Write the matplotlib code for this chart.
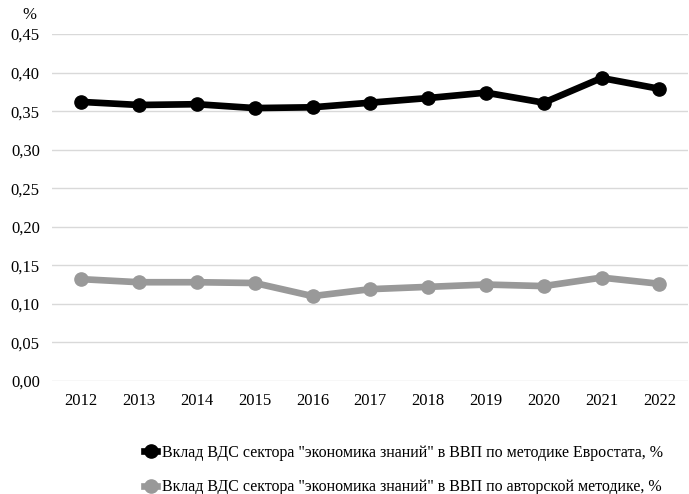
import matplotlib
matplotlib.use("Agg")
import matplotlib.pyplot as plt
from matplotlib.ticker import FuncFormatter

plt.rcParams['font.family'] = ['Liberation Serif', 'DejaVu Serif']

years = ['2012', '2013', '2014', '2015', '2016', '2017', '2018', '2019', '2020', '2021', '2022']
eurostat = [0.362, 0.358, 0.359, 0.354, 0.355, 0.361, 0.367, 0.374, 0.361, 0.393, 0.379]
author = [0.132, 0.128, 0.128, 0.127, 0.110, 0.119, 0.122, 0.125, 0.123, 0.134, 0.126]
labels = ['Вклад ВДС сектора "экономика знаний" в ВВП по методике Евростата, %',
          'Вклад ВДС сектора "экономика знаний" в ВВП по авторской методике, %']

fig = plt.figure(figsize=(6.89, 4.94), dpi=100)
ax = fig.add_axes([0.076, 0.229, 0.923, 0.702])

x = range(len(years))
ax.plot(x, eurostat, color='black', lw=4.8, marker='o', ms=9.5, label=labels[0])
ax.plot(x, author, color='#999999', lw=4.8, marker='o', ms=9.5, label=labels[1])

ax.set_xlim(-0.5, len(years) - 0.5)
ax.set_ylim(0, 0.45)
ax.set_yticks([i * 0.05 for i in range(10)])
ax.yaxis.set_major_formatter(FuncFormatter(lambda v, p: f"{v:.2f}".replace('.', ',')))
ax.set_xticks(list(x))
ax.set_xticklabels(years)
ax.tick_params(length=0, labelsize=12, colors='black')
ax.tick_params(axis='y', pad=9)
ax.tick_params(axis='x', pad=9)
ax.grid(axis='y', color='#d9d9d9', lw=1)
ax.set_axisbelow(True)
for s in ax.spines.values():
    s.set_visible(False)

fig.text(0.032, 0.962, '%', fontsize=12)

fig.legend(loc='upper left', bbox_to_anchor=(0.2, 0.112), frameon=False,
           fontsize=11.5, handlelength=0.8, handletextpad=0.3, labelspacing=1.15,
           borderaxespad=0)

fig.savefig('out.png', dpi=100)
